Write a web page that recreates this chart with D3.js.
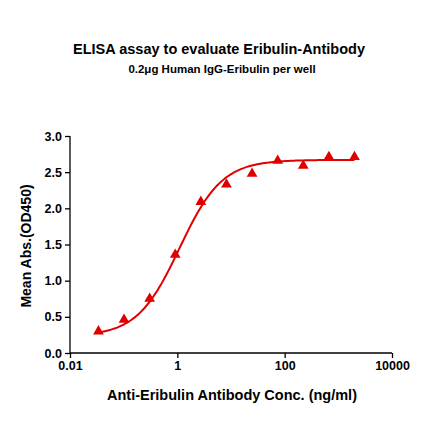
<!DOCTYPE html>
<html><head><meta charset="utf-8">
<script src="https://cdn.jsdelivr.net/npm/d3@7"></script>
<style>body{margin:0;background:#fff}text{font-family:Arial,"Liberation Sans",sans-serif;font-weight:bold}</style>
</head><body><div id="chart"></div>
<script>
// measured points
var conc = [0.0339, 0.1016, 0.305, 0.914, 2.74, 8.23, 24.7, 74.1, 222.2, 666.7, 2000];
var od = [0.30, 0.46, 0.75, 1.36, 2.09, 2.33, 2.48, 2.66, 2.59, 2.71, 2.71];
// 4PL fit parameters: bottom, top, ec50, hill
var fit = [0.23, 2.67, 1.1, 1.1];
var xTicks = [0.01, 1, 100, 10000];
var yTicks = [0, 0.5, 1, 1.5, 2, 2.5, 3];

var w = 440, h = 441;
var svg = d3.select('#chart').append('svg').attr('width', w).attr('height', h);
var x = d3.scaleLog().domain([0.01, 10000]).range([70, 392]);
var y = d3.scaleLinear().domain([0, 3]).range([353, 136]);

svg.append('text').attr('x', 219).attr('y', 54).attr('text-anchor', 'middle')
	.style('font-size', '14.5px').text('ELISA assay to evaluate Eribulin-Antibody');
svg.append('text').attr('x', 222).attr('y', 73).attr('text-anchor', 'middle')
	.style('font-size', '11.5px').text('0.2μg Human IgG-Eribulin per well');

var xa = svg.append('g').attr('transform', 'translate(0,353)')
	.call(d3.axisBottom(x).tickValues(xTicks).tickFormat(d3.format('~g')).tickSizeOuter(0).tickSize(5));
var ya = svg.append('g').attr('transform', 'translate(70,0)')
	.call(d3.axisLeft(y).tickValues(yTicks).tickFormat(d3.format('.1f')).tickSizeOuter(0).tickSize(5));
[xa, ya].forEach(function(a) {
	a.selectAll('text').style('font-size', '12.5px').attr('fill', '#000');
	a.selectAll('line,path').attr('stroke', '#000').attr('stroke-width', 1.3);
});
xa.select('.domain').attr('d', 'M70,0H392');
ya.select('.domain').attr('d', 'M0,353V136');

svg.append('text').attr('x', 232).attr('y', 400).attr('text-anchor', 'middle')
	.style('font-size', '14.5px').text('Anti-Eribulin Antibody Conc. (ng/ml)');
svg.append('text').attr('transform', 'translate(31,246) rotate(-90)').attr('text-anchor', 'middle')
	.style('font-size', '14px').text('Mean Abs.(OD450)');

function model(c) {
	return fit[0] + (fit[1] - fit[0]) / (1 + Math.pow(fit[2] / c, fit[3]));
}
var curveX = d3.range(0, 121).map(function(i) {
	return Math.pow(10, Math.log10(conc[0]) + i / 120 * (Math.log10(conc[conc.length - 1]) - Math.log10(conc[0])));
});
svg.append('path').datum(curveX)
	.attr('d', d3.line().x(function(c) { return x(c); }).y(function(c) { return y(model(c)); }).curve(d3.curveBasis))
	.attr('fill', 'none').attr('stroke', '#e00000').attr('stroke-width', 2);

svg.selectAll('.pt').data(conc).enter().append('path').attr('class', 'pt')
	.attr('transform', function(d, i) { return 'translate(' + x(d) + ',' + y(od[i]) + ')'; })
	.attr('d', d3.symbol(d3.symbolTriangle, 50))
	.attr('fill', '#e00000');
</script></body></html>
